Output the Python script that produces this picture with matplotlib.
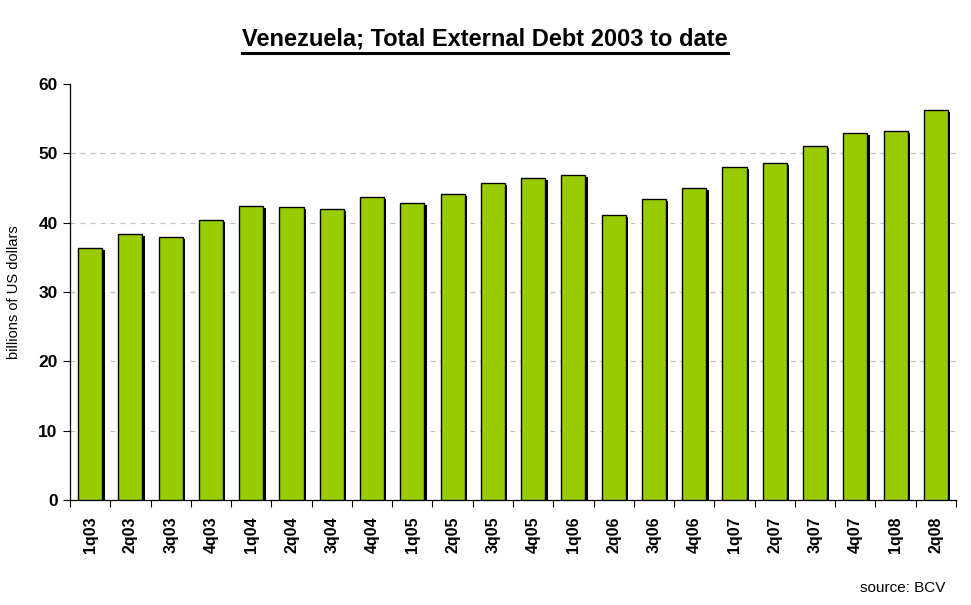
import numpy as np
import matplotlib.pyplot as plt
import matplotlib.patheffects as pe

# --- datos: deuda externa total de Venezuela (miles de millones USD) ---
quarters = ['1q03', '2q03', '3q03', '4q03', '1q04', '2q04', '3q04', '4q04',
            '1q05', '2q05', '3q05', '4q05', '1q06', '2q06', '3q06', '4q06',
            '1q07', '2q07', '3q07', '4q07', '1q08', '2q08']
debt = [36.3, 38.3, 37.9, 40.4, 42.4, 42.2, 41.9, 43.7,
        42.8, 44.1, 45.7, 46.4, 46.9, 41.1, 43.4, 45.0,
        48.0, 48.6, 51.0, 52.9, 53.2, 56.2]
y_ticks = [0, 10, 20, 30, 40, 50, 60]

plt.rcParams['font.family'] = ['Liberation Sans', 'DejaVu Sans']

fig = plt.figure(figsize=(9.71, 6.05), dpi=100)
ax = fig.add_axes([70 / 971, 105 / 605, 886 / 971, 416 / 605])

x = np.arange(len(quarters))
shadow = [pe.SimplePatchShadow(offset=(1.7, -1.4), shadow_rgbFace='black', alpha=1.0), pe.Normal()]
ax.bar(x, debt, width=0.6, color='#99CC00', edgecolor='black', linewidth=1.0,
       path_effects=shadow, zorder=3)

ax.set_xlim(-0.5, len(quarters) - 0.5)
ax.set_ylim(0, 60)
ax.set_yticks(y_ticks)
ax.set_yticklabels([str(v) for v in y_ticks], fontsize=12.5, fontweight='bold')

# etiquetas en el centro, marcas en los bordes de cada categoría
ax.set_xticks(x)
ax.set_xticklabels(quarters, rotation=90, fontsize=11.5, fontweight='bold')
ax.tick_params(axis='x', which='major', length=0, pad=12)
ax.set_xticks(np.arange(-0.5, len(quarters)), minor=True)
ax.tick_params(axis='x', which='minor', length=5, width=0.8, direction='out')
ax.tick_params(axis='y', length=5, width=0.8, direction='out', pad=4)

for v in y_ticks[1:-1]:
    ax.axhline(v, color='#c0c0c0', linestyle=(0, (4, 4)), linewidth=0.9, zorder=1)

for s in ['top', 'right']:
    ax.spines[s].set_visible(False)
for s in ['left', 'bottom']:
    ax.spines[s].set_linewidth(0.9)

ax.set_ylabel('billions of US dollars', fontsize=10.5, labelpad=12)

t = fig.text(485 / 971, 1 - 39 / 605, 'Venezuela; Total External Debt 2003 to date',
             ha='center', va='center', fontsize=17, fontweight='bold')
# subrayado del título
fig.canvas.draw()
bb = t.get_window_extent()
fig.add_artist(plt.Line2D([bb.x0 / 971, bb.x1 / 971],
                          [(bb.y0 - 2) / 605, (bb.y0 - 2) / 605],
                          transform=fig.transFigure, color='black', linewidth=2.2))

fig.text(945 / 971, 1 - 588 / 605, 'source: BCV', ha='right', va='center', fontsize=11)

fig.savefig('out.png', dpi=100)
